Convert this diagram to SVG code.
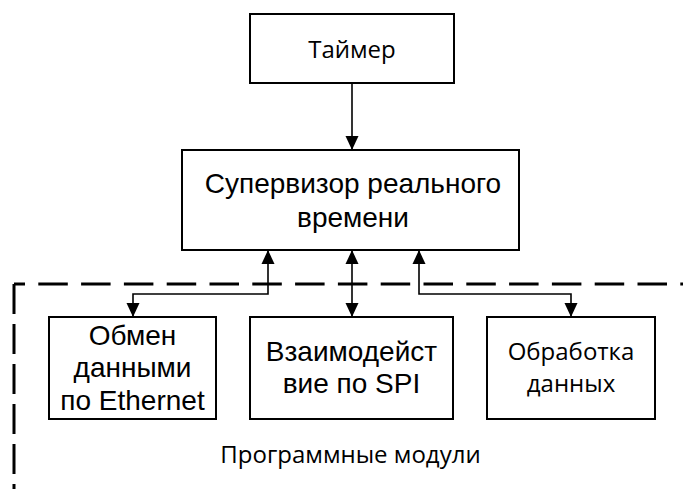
<svg xmlns="http://www.w3.org/2000/svg" width="683" height="489" viewBox="0 0 683 489">
<style>
.box{fill:#fff;stroke:#000;stroke-width:2}
.con{fill:none;stroke:#000;stroke-width:1.6}
.arial{font-family:"Liberation Sans",Arial,sans-serif;font-size:28px;fill:#000;text-anchor:middle}
.cal{font-family:"Open Sans","Noto Sans",sans-serif;font-size:24px;fill:#000;text-anchor:middle}
.dash{fill:none;stroke:#000;stroke-width:3}
</style>
<defs>
<marker id="ah" viewBox="0 0 14 14" refX="14" refY="7" markerWidth="14" markerHeight="14" markerUnits="userSpaceOnUse" orient="auto-start-reverse">
<path d="M0,0.5 L14,7 L0,13.5 z" fill="#000"/>
</marker>
</defs>
<rect width="683" height="489" fill="#fff"/>
<g id="boundary">
<path class="dash" d="M14,284 H683" stroke-dasharray="29.5 13.3" stroke-dashoffset="18.5"/>
<path class="dash" d="M14,284 V489" stroke-dasharray="30 10"/>
<text class="cal" x="350.5" y="463" font-size="23.6">Программные модули</text>
</g>
<g id="connectors">
<path class="con" d="M352,83 V150" marker-end="url(#ah)"/>
<path class="con" d="M268,250 V294 H133 V317" marker-start="url(#ah)" marker-end="url(#ah)"/>
<path class="con" d="M352,250 V317" marker-start="url(#ah)" marker-end="url(#ah)"/>
<path class="con" d="M419,250 V294 H571 V317" marker-start="url(#ah)" marker-end="url(#ah)"/>
</g>
<g id="timer">
<rect class="box" x="250" y="14" width="204" height="69"/>
<text class="cal" x="352" y="58">Таймер</text>
</g>
<g id="supervisor">
<rect class="box" x="182" y="150" width="337" height="100"/>
<text class="arial" x="353" y="193">Супервизор реального</text>
<text class="arial" x="353" y="227">времени</text>
</g>
<g id="ethernet">
<rect class="box" x="49" y="317" width="167" height="102"/>
<text class="arial" x="132.5" y="345">Обмен</text>
<text class="arial" x="132.5" y="377">данными</text>
<text class="arial" x="132.5" y="410">по Ethernet</text>
</g>
<g id="spi">
<rect class="box" x="250" y="317" width="203" height="102"/>
<text class="arial" x="351.5" y="361">Взаимодейст</text>
<text class="arial" x="351.5" y="393">вие по SPI</text>
</g>
<g id="processing">
<rect class="box" x="487" y="317" width="168" height="102"/>
<text class="cal" x="571" y="360">Обработка</text>
<text class="cal" x="571" y="392">данных</text>
</g>
</svg>
